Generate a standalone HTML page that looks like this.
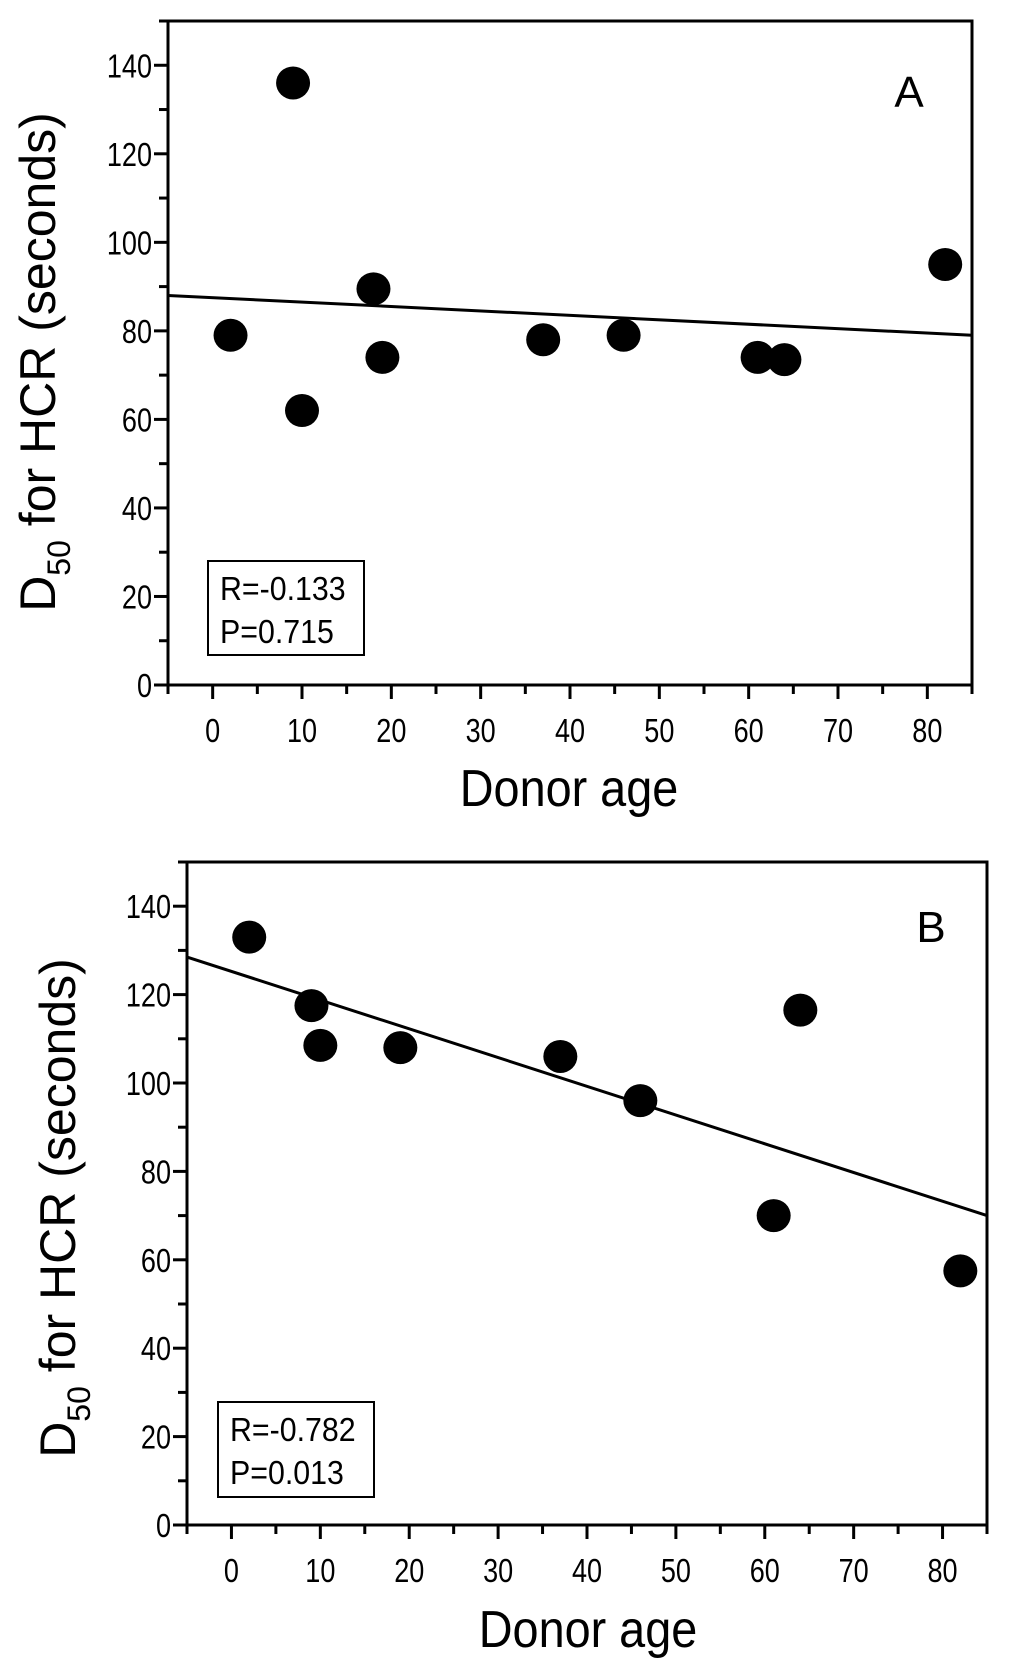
<!DOCTYPE html>
<html><head><meta charset="utf-8"><style>
html,body{margin:0;padding:0;background:#fff;}
svg{display:block;font-family:"Liberation Sans",Arial,sans-serif;}
</style></head><body>
<svg id="chart" width="1019" height="1676" viewBox="0 0 1019 1676" xmlns="http://www.w3.org/2000/svg"></svg>
<script>
const xTicks=[0,10,20,30,40,50,60,70,80];
const yTicks=[0,20,40,60,80,100,120,140];
const agesA=[2,9,10,18,19,37,46,61,64,82];
const valuesA=[79,136,62,89.5,74,78,79,74,73.5,95];
const fitA=[88,79];
const agesB=[2,9,10,19,37,46,61,64,82];
const valuesB=[133,117.5,108.5,108,106,96,70,116.5,57.5];
const fitB=[128.5,70];
const statsA=["R=-0.133","P=0.715"];
const statsB=["R=-0.782","P=0.013"];
const NS="http://www.w3.org/2000/svg";
const svg=document.getElementById('chart');
function mk(tag,attrs,parent,text){const e=document.createElementNS(NS,tag);for(const k in attrs)e.setAttribute(k,attrs[k]);if(text!==undefined)e.textContent=text;(parent||svg).appendChild(e);return e;}
function panel(id,L,R,T,B,ages,vals,fit,stats,box,letter,letterPos,ytx,yty,xtx,xty){
  const g=mk('g',{});
  
  
  const xs=v=>L+(v+5)/90*(R-L);
  const ys=v=>B-v/150*(B-T);
  const frame=mk('rect',{x:L,y:T,width:R-L,height:B-T,fill:'none',stroke:'#000','stroke-width':3},g);
  
  
  for(let v=-5;v<=85;v+=5){const maj=v%10===0;mk('line',{x1:xs(v),x2:xs(v),y1:B,y2:B+(maj?14:9),stroke:'#000','stroke-width':3},g);}
  for(let v=0;v<=150;v+=10){const maj=v%20===0;mk('line',{x1:L,x2:L-(maj?14:9),y1:ys(v),y2:ys(v),stroke:'#000','stroke-width':3},g);}
  xTicks.forEach(v=>{const t=mk('text',{x:0,y:0,'font-size':33,'text-anchor':'middle',transform:`translate(${xs(v)},${B+57}) scale(0.82,1)`},g,String(v));});
  yTicks.forEach(v=>{const t=mk('text',{x:0,y:0,'font-size':33,'text-anchor':'end',transform:`translate(${L-16},${ys(v)+12}) scale(0.82,1)`},g,String(v));});
  const ln=mk('line',{x1:xs(-5),y1:ys(fit[0]),x2:xs(85),y2:ys(fit[1]),stroke:'#000','stroke-width':3},g);
  
  
  ages.forEach((a,i)=>{const c=mk('ellipse',{cx:xs(a),cy:ys(vals[i]),rx:17,ry:16.5,fill:'#000'},g);});
  const bx=mk('rect',{x:box[0],y:box[1],width:box[2]-box[0],height:box[3]-box[1],fill:'#fff',stroke:'#000','stroke-width':2},g);
  
  
  stats.forEach((s,i)=>{const t=mk('text',{x:0,y:0,'font-size':33,transform:`translate(${box[0]+12},${box[1]+39+i*43}) scale(0.92,1)`},g,s);});
  const lt=mk('text',{x:letterPos[0],y:letterPos[1],'font-size':44,'text-anchor':'middle'},g,letter);
  
  
  const yt=mk('text',{x:0,y:0,'font-size':50,'text-anchor':'middle',transform:`translate(${ytx},${yty}) rotate(-90)`},g);
  
  
  mk('tspan',{},yt,'D');
  mk('tspan',{'font-size':32,dy:15},yt,'50');
  mk('tspan',{dy:-15},yt,' for HCR (seconds)');
  const xt=mk('text',{x:0,y:0,'font-size':52,'text-anchor':'middle',transform:`translate(${xtx},${xty}) scale(0.9,1)`},g,'Donor age');
  
  
}
panel('a',168,972,21,685,agesA,valuesA,fitA,statsA,[208,561,364,655],'A',[909,107],55,362,569,806);
panel('b',187,987,862,1525,agesB,valuesB,fitB,statsB,[218,1402,374,1497],'B',[931,942],75,1208,588,1647);
</script>
</body></html>
